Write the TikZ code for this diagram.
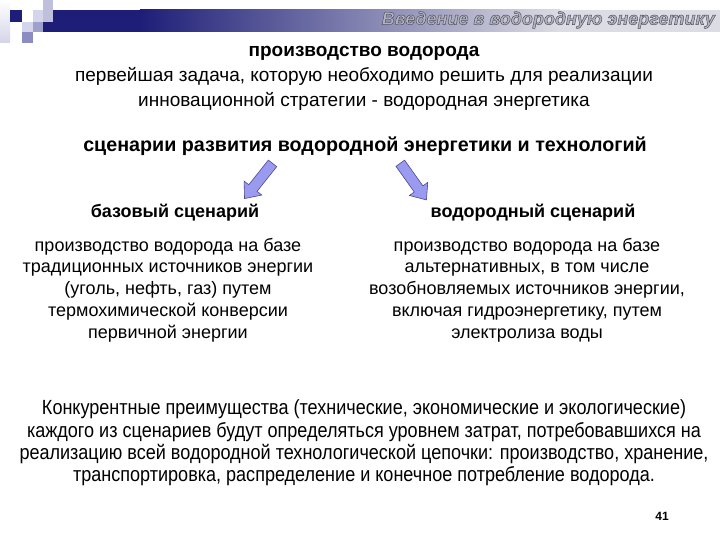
\documentclass[tikz,border=0pt]{standalone}
\usepackage{fontspec}
\setmainfont{Liberation Sans}
\newfontfamily\narrowfont[FakeStretch=0.88]{Liberation Sans}
\usetikzlibrary{shapes.arrows}
\definecolor{navy}{HTML}{1E1E78}
\definecolor{barlight}{HTML}{DCDCE4}
\definecolor{sqA}{HTML}{D4D4EA}
\definecolor{sqB}{HTML}{C0C0DC}
\definecolor{sqC}{HTML}{A0A0CC}
\definecolor{sqD}{HTML}{8C8CC2}
\definecolor{arrowfill}{HTML}{9A9AF0}
\definecolor{arrowline}{HTML}{4A4A8A}
\definecolor{titlegray}{HTML}{B4B4BE}
\tikzset{
  txt/.style={inner sep=0pt, align=center, text=black},
  blockarrow/.style={single arrow, draw=arrowline, fill=arrowfill, line width=0.6pt,
    minimum height=45pt, inner sep=5pt, single arrow head extend=6pt,
    single arrow tip angle=80},
}
\begin{document}
\begin{tikzpicture}[x=1pt,y=-1pt]
\useasboundingbox[fill=white] (0,0) rectangle (720,540);
% header decoration
\shade[left color=white, right color=sqA, shading angle=0] (0,0) rectangle (10,43);
\fill[navy] (43,10) rectangle (140,32);
\shade[left color=navy, right color=barlight] (140,10) rectangle (560,32);
\fill[barlight] (560,10) rectangle (720,32);
\fill[navy] (10,10) rectangle (22,22);
\fill[sqA] (33,10) rectangle (43,22);
\fill[sqB] (43,0) rectangle (53,22);
\fill[sqA] (22,22) rectangle (33,32);
\fill[sqC] (33,22) rectangle (43,32);
\fill[sqD] (22,32) rectangle (33,43);
\node[txt, anchor=east, text=titlegray, font=\fontsize{18}{20}\selectfont\bfseries\itshape] (hdr) at (715,20)
  {\special{pdf:literal direct 0.3 0.3 0.36 RG 0.45 w 2 Tr}Введение в водородную энергетику\special{pdf:literal direct 0 Tr}};
% top text
\node[txt, font=\fontsize{19}{25}\selectfont] (top) at (364,78)
  {\textbf{производство водорода}\\первейшая задача, которую необходимо решить для реализации\\инновационной стратегии - водородная энергетика};
\node[txt, font=\fontsize{19.7}{23}\selectfont\bfseries] (scen) at (365,146) {сценарии развития водородной энергетики и технологий};
% arrows
\node[blockarrow, rotate=231.5] (arL) at (260.5,178.5) {};
\node[blockarrow, rotate=-54.5] (arR) at (411.5,179) {};
% scenario labels
\node[txt, font=\fontsize{18}{22}\selectfont\bfseries] (base) at (175,213) {базовый сценарий};
\node[txt, font=\fontsize{18}{22}\selectfont\bfseries] (hyd) at (533,213) {водородный сценарий};
% paragraphs
\node[txt, font=\fontsize{18}{21.75}\selectfont] (pL) at (168,290)
  {производство водорода на базе\\традиционных источников энергии\\(уголь, нефть, газ) путем\\термохимической конверсии\\первичной энергии};
\node[txt, font=\fontsize{18}{21.75}\selectfont] (pR) at (527,290)
  {производство водорода на базе\\альтернативных, в том числе\\возобновляемых источников энергии,\\включая гидроэнергетику, путем\\электролиза воды};
\node[txt, font=\fontsize{20.5}{22.4}\narrowfont] (pB) at (364,443)
  {Конкурентные преимущества (технические, экономические и экологические)\\каждого из сценариев будут определяться уровнем затрат, потребовавшихся на\\реализацию всей водородной технологической цепочки: производство, хранение,\\транспортировка, распределение и конечное потребление водорода.};
\node[txt, font=\fontsize{12}{14}\selectfont\bfseries] (pg) at (662,516) {41};
\end{tikzpicture}
\end{document}
